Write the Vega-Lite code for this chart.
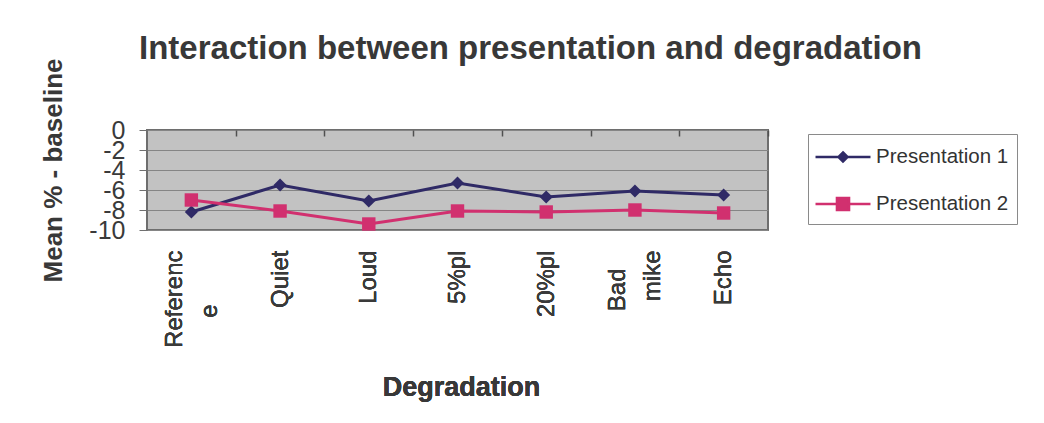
{
  "$schema": "https://vega.github.io/schema/vega-lite/v6.json",
  "autosize": {"type": "none"},
  "width": 621,
  "height": 100,
  "padding": {"left": 147, "top": 130, "right": 276, "bottom": 193},
  "background": "white",
  "title": {
    "text": "Interaction between presentation and degradation",
    "anchor": "middle",
    "dx": 73,
    "baseline": "alphabetic",
    "offset": 0,
    "dy": 34,
    "font": "Liberation Sans",
    "fontSize": 33,
    "fontWeight": "bold",
    "color": "#383838"
  },
  "data": {
    "values": [
      {"degradation": "Reference", "series": "Presentation 1", "value": -8.2},
      {"degradation": "Quiet", "series": "Presentation 1", "value": -5.5},
      {"degradation": "Loud", "series": "Presentation 1", "value": -7.1},
      {"degradation": "5%pl", "series": "Presentation 1", "value": -5.3},
      {"degradation": "20%pl", "series": "Presentation 1", "value": -6.7},
      {"degradation": "Bad mike", "series": "Presentation 1", "value": -6.1},
      {"degradation": "Echo", "series": "Presentation 1", "value": -6.5},
      {"degradation": "Reference", "series": "Presentation 2", "value": -7.0},
      {"degradation": "Quiet", "series": "Presentation 2", "value": -8.1},
      {"degradation": "Loud", "series": "Presentation 2", "value": -9.4},
      {"degradation": "5%pl", "series": "Presentation 2", "value": -8.1},
      {"degradation": "20%pl", "series": "Presentation 2", "value": -8.2},
      {"degradation": "Bad mike", "series": "Presentation 2", "value": -8.0},
      {"degradation": "Echo", "series": "Presentation 2", "value": -8.3}
    ]
  },
  "config": {
    "view": {"fill": "#c2c2c2", "stroke": "#6e6e6e", "strokeWidth": 2},
    "font": "Liberation Sans"
  },
  "resolve": {"axis": {"x": "independent"}},
  "encoding": {
    "x": {
      "field": "degradation",
      "type": "nominal",
      "sort": ["Reference", "Quiet", "Loud", "5%pl", "20%pl", "Bad mike", "Echo"],
      "scale": {"type": "point", "padding": 0.5},
      "axis": {
        "orient": "bottom",
        "title": "Degradation",
        "titleFont": "Liberation Sans",
        "titleFontSize": 27,
        "titleFontWeight": "bold",
        "titleColor": "#383838",
        "titleBaseline": "alphabetic",
        "titleX": 314,
        "titleY": 165,
        "labelAngle": -90,
        "labelFont": "Liberation Sans",
        "labelFontSize": 24,
        "labelColor": "#3a3a3a",
        "labelPadding": 20,
        "labelLineHeight": 35,
        "labelOffset": {"condition": {"test": "datum.value == 'Reference' || datum.value == 'Bad mike'", "value": -17}, "value": 0},
        "labelOverlap": false,
        "labelBound": false,
        "labelExpr": "datum.value == 'Reference' ? ['Referenc', 'e\u2800\u2800\u2800'] : datum.value == 'Bad mike' ? ['Bad\u2800', 'mike'] : datum.value",
        "ticks": false,
        "domain": false,
        "grid": false
      }
    },
    "y": {
      "field": "value",
      "type": "quantitative",
      "scale": {"domain": [-10, 0], "nice": false, "zero": false},
      "axis": {
        "title": "Mean % - baseline",
        "titleFont": "Liberation Sans",
        "titleFontSize": 26,
        "titleFontWeight": "bold",
        "titleColor": "#383838",
        "titleBaseline": "alphabetic",
        "titleX": -86,
        "titleY": 40,
        "titleAngle": -90,
        "values": [0, -2, -4, -6, -8, -10],
        "tickCount": 12,
        "labelExpr": "datum.value == 0 ? '0' : '-' + abs(datum.value)",
        "labelFont": "Liberation Sans",
        "labelFontSize": 25,
        "labelColor": "#3a3a3a",
        "labelPadding": 14,
        "labelOverlap": false,
        "labelBound": false,
        "labelFlush": false,
        "tickSize": 8,
        "tickColor": "#707070",
        "domain": false,
        "grid": true,
        "gridColor": "#858585",
        "gridWidth": 1
      }
    }
  },
  "layer": [
    {
      "transform": [{"filter": "datum.series == 'Presentation 1'"}],
      "mark": {"type": "line", "strokeWidth": 3, "color": "#2f2a66"}
    },
    {
      "transform": [{"filter": "datum.series == 'Presentation 2'"}],
      "mark": {"type": "line", "strokeWidth": 3, "color": "#d1306f"}
    },
    {
      "transform": [{"filter": "datum.series == 'Presentation 1'"}],
      "mark": {"type": "point", "shape": "diamond", "filled": true, "size": 170, "opacity": 1, "color": "#2f2a66"},
      "encoding": {
        "x": {
          "field": "degradation",
          "type": "nominal",
          "sort": ["Reference", "Quiet", "Loud", "5%pl", "20%pl", "Bad mike", "Echo"],
          "axis": {
            "orient": "top",
            "labels": false,
            "title": null,
            "domain": false,
            "grid": false,
            "ticks": true,
            "tickSize": -6,
            "tickOffset": 44.36,
            "tickColor": "#505050",
            "tickWidth": 1.5
          }
        }
      }
    },
    {
      "transform": [{"filter": "datum.series == 'Presentation 2'"}],
      "mark": {"type": "point", "shape": "square", "filled": true, "size": 180, "opacity": 1, "color": "#d1306f"}
    },
    {
      "transform": [{"filter": "false"}],
      "mark": {"type": "point", "filled": true, "opacity": 1, "strokeWidth": 2.5},
      "encoding": {
        "color": {
          "field": "series",
          "type": "nominal",
          "scale": {"domain": ["Presentation 1", "Presentation 2"], "range": ["#2f2a66", "#d1306f"]},
          "legend": {
            "orient": "none",
            "legendX": 661,
            "legendY": 4,
            "title": null,
            "labelFont": "Liberation Sans",
            "labelFontSize": 20.5,
            "labelColor": "#333333",
            "symbolSize": 756,
            "symbolOffset": 12,
            "symbolStrokeWidth": 2.5,
            "labelOffset": 18,
            "rowPadding": 21,
            "padding": 8,
            "strokeColor": "#8a8a8a",
            "fillColor": "white"
          }
        },
        "stroke": {
          "field": "series",
          "type": "nominal",
          "scale": {"domain": ["Presentation 1", "Presentation 2"], "range": ["#2f2a66", "#d1306f"]}
        },
        "shape": {
          "field": "series",
          "type": "nominal",
          "scale": {
            "domain": ["Presentation 1", "Presentation 2"],
            "range": ["M-2,0H2M0,-0.33L0.33,0L0,0.33L-0.33,0Z", "M-2,0H2M-0.44,-0.44H0.44V0.44H-0.44Z"]
          }
        }
      }
    }
  ]
}
